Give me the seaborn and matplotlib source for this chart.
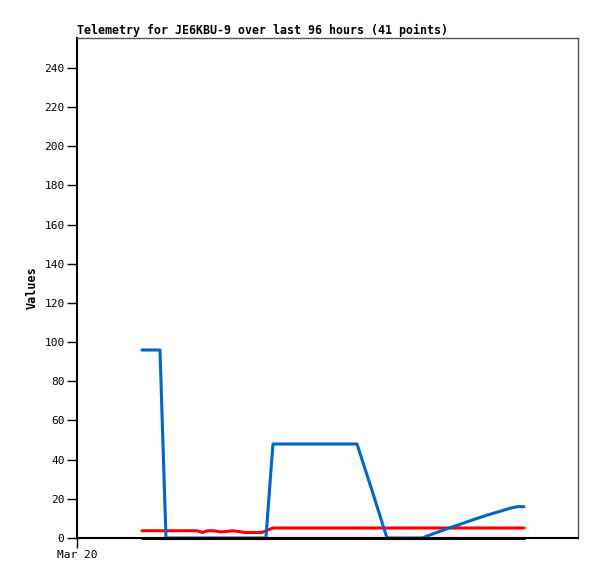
import numpy as np
import pandas as pd
import matplotlib
matplotlib.use("Agg")
import matplotlib.pyplot as plt
import seaborn as sns

# hours since Mar 20 00:00
hours = [12.45, 14.2, 15.9, 17.05, 18.9, 20.8, 22.0, 23.0, 24.0, 25.0,
         26.2, 27.5, 28.6, 29.8, 31.0, 32.2, 33.4, 34.6, 35.5, 36.2,
         37.55, 39.5, 42.0, 45.0, 48.0, 51.0, 53.65, 56.5, 59.4, 61.5,
         63.8, 66.1, 68.5, 71.0, 73.5, 76.0, 78.5, 81.0, 83.0, 84.3, 85.65]

blue_vals = [96, 96, 96, 0, 0, 0, 0, 0, 0, 0,
             0, 0, 0, 0, 0, 0, 0, 0, 0, 0,
             48, 48, 48, 48, 48, 48, 48, 24.5, 0, 0,
             0, 0, 2.4, 4.8, 7.1, 9.4, 11.6, 13.6, 15.2, 16, 16]

red_vals = [3.7, 3.7, 3.7, 3.7, 3.7, 3.7, 3.7, 3.7, 2.8, 3.7,
            3.7, 3.1, 3.3, 3.7, 3.3, 2.8, 2.8, 2.8, 2.9, 3.7,
            5.1, 5.1, 5.1, 5.1, 5.1, 5.1, 5.1, 5.1, 5.1, 5.1,
            5.1, 5.1, 5.1, 5.1, 5.1, 5.1, 5.1, 5.1, 5.1, 5.1, 5.1]

black_vals = [0] * 41

y_ticks = list(range(0, 241, 20))
x_tick_labels = ["Mar 20"]

df = pd.DataFrame({
    "hours": hours * 3,
    "value": red_vals + blue_vals + black_vals,
    "series": ["red"] * 41 + ["blue"] * 41 + ["black"] * 41,
})

sns.set_style("white")
plt.rcParams["font.family"] = ["DejaVu Sans Mono"]
plt.rcParams["text.color"] = "black"
plt.rcParams["xtick.color"] = "black"
plt.rcParams["ytick.color"] = "black"
plt.rcParams["axes.labelcolor"] = "black"

fig = plt.figure(figsize=(5.97, 5.79), dpi=100)
ax = fig.add_axes([77 / 597, 41 / 579, 501 / 597, 500 / 579])

sns.lineplot(data=df, x="hours", y="value", hue="series",
             palette={"black": "#000000", "red": "#ff0000", "blue": "#0066cc"},
             linewidth=2.2, legend=False, ax=ax, estimator=None,
             hue_order=["red", "blue", "black"])

# draw order: red, blue, then black on top
for i, ln in enumerate(ax.lines):
    ln.set_zorder(2 + i)
    ln.set_clip_on(False)

ax.set_xlim(0, 96)
ax.set_ylim(0, 255.3)
ax.set_yticks(y_ticks)
ax.set_yticklabels([str(v) for v in y_ticks], fontsize=8)
ax.set_xticks([0])
ax.set_xticklabels(x_tick_labels, fontsize=8)
ax.tick_params(axis="both", direction="out", length=7, width=1,
               color="black", left=True, bottom=True, pad=2)
ax.set_xlabel("")
ax.set_ylabel("Values", fontsize=8.5, fontweight="bold", labelpad=4)

for side in ["left", "bottom"]:
    ax.spines[side].set_color("black")
    ax.spines[side].set_linewidth(1.5)
for side in ["top", "right"]:
    ax.spines[side].set_color("#555555")
    ax.spines[side].set_linewidth(1)

ax.set_title("Telemetry for JE6KBU-9 over last 96 hours (41 points)",
             loc="left", fontsize=8.35, fontweight="bold", pad=3)

fig.savefig("out.png", dpi=100)
